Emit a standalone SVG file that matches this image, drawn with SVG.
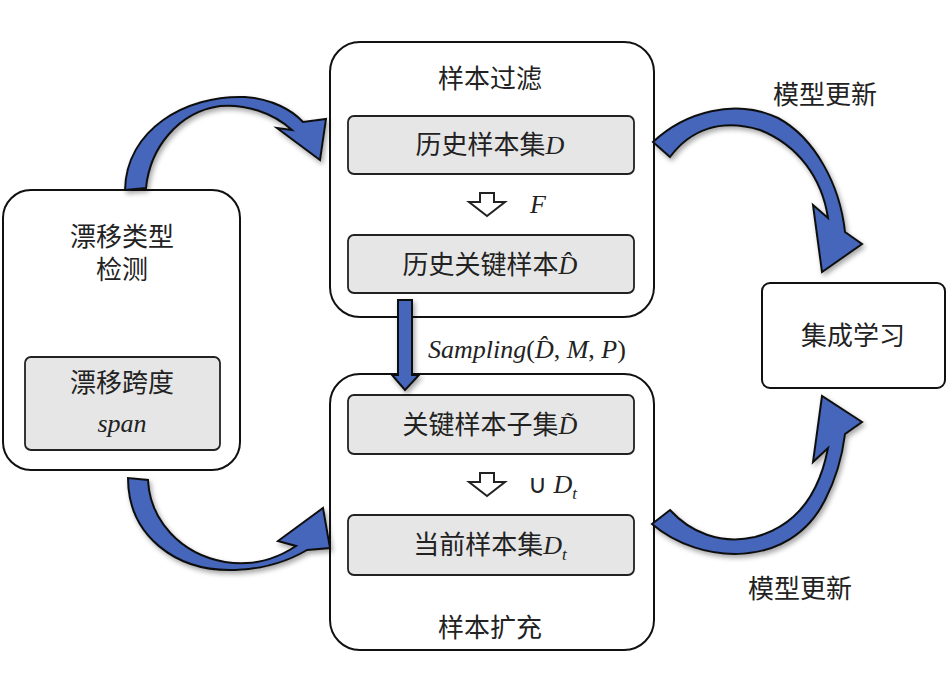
<svg xmlns="http://www.w3.org/2000/svg" width="948" height="675" viewBox="0 0 948 675">
<defs>
<filter id="sh" x="-20%" y="-20%" width="140%" height="140%"><feDropShadow dx="2" dy="3" stdDeviation="2.5" flood-color="#000" flood-opacity="0.35"/></filter>
<style>
.box{fill:#fff;stroke:#111;stroke-width:2}
.inner{fill:#e6e6e6;stroke:#222;stroke-width:1.8}
.cn{font-family:"Liberation Serif","Noto Sans CJK SC",serif;font-size:26px;fill:#222;text-anchor:middle}
.it{font-family:"Liberation Serif",serif;font-style:italic}
.blue{fill:#4466bb;stroke:#111;stroke-width:2;filter:url(#sh)}
.hol{fill:#fff;stroke:#222;stroke-width:2}
</style>
</defs>
<rect width="948" height="675" fill="#fff"/>
<g id="left"><rect class="box" x="3" y="190" width="237" height="280" rx="28"/>
<text class="cn" x="122" y="246">漂移类型</text><text class="cn" x="122" y="279">检测</text>
<rect class="inner" x="25" y="357" width="195" height="93" rx="6"/>
<text class="cn" x="122" y="392">漂移跨度</text><text class="cn it" x="122" y="432">span</text></g>
<g id="top"><rect class="box" x="330" y="42" width="324" height="275" rx="30"/>
<text class="cn" x="490" y="88">样本过滤</text>
<rect class="inner" x="348" y="116" width="286" height="58" rx="6"/>
<text class="cn" x="490" y="154">历史样本集<tspan class="it">D</tspan></text>
<rect class="inner" x="348" y="235" width="286" height="58" rx="6"/>
<text class="cn" x="490" y="274">历史关键样本<tspan class="it">D̂</tspan></text></g>
<g id="bottom"><rect class="box" x="330" y="374" width="324" height="276" rx="30"/>
<rect class="inner" x="348" y="395" width="286" height="59" rx="6"/>
<text class="cn" x="490" y="434">关键样本子集<tspan class="it">D̃</tspan></text>
<rect class="inner" x="348" y="515" width="286" height="60" rx="6"/>
<text class="cn" x="490" y="554">当前样本集<tspan class="it">D</tspan><tspan class="it" font-size="17" dy="6">t</tspan></text>
<text class="cn" x="490" y="637">样本扩充</text></g>
<g id="right"><rect class="box" x="762" y="283" width="183" height="105" rx="8"/>
<text class="cn" x="853" y="345">集成学习</text></g>
<g id="connectors">
<path class="hol" d="M480,193 h14 v9 h11 l-18,14 l-18,-14 h11 z"/>
<text class="it" x="530" y="213" font-size="26" fill="#222">F</text>
<path class="hol" d="M480,473 h14 v9 h11 l-18,14 l-18,-14 h11 z"/>
<text x="528" y="493" font-size="26" fill="#222" font-family="Liberation Serif,serif">∪ <tspan class="it">D</tspan><tspan class="it" font-size="17" dy="6">t</tspan></text>
<path class="blue" d="M398,300 h14 v75 h7 l-14,15 l-13,-15 h6 z"/>
<text class="it" x="428" y="358" font-size="26" fill="#222">Sampling<tspan font-style="normal">(</tspan>D̂<tspan font-style="normal">, </tspan>M<tspan font-style="normal">, </tspan>P<tspan font-style="normal">)</tspan></text>
<path class="blue" d="M125,190 C126,130 185,95 245,97 C272,99 292,110 303,122 L326,119 L320,160 L277,128 L292,130 C272,112 245,104 220,106 C178,112 150,148 146,188 Z"/>
<path class="blue" d="M653,142 C685,112 735,98 778,118 C815,138 840,185 845,232 L862,244 L822,272 L813,205 L828,218 C822,178 798,145 760,130 C720,118 690,130 670,157 Z"/>
<path class="blue" d="M128,478 C128,535 175,572 235,570 C265,569 290,560 307,550 L330,548 L323,508 L278,541 L296,546 C275,560 250,566 225,562 C180,554 150,520 148,480 Z"/>
<path class="blue" d="M652,524 C700,565 790,570 825,500 C838,475 843,450 845,434 L862,422 L822,396 L813,462 L828,448 C820,490 800,525 755,537 C720,545 690,532 670,510 Z"/>
<text class="cn" x="825" y="104">模型更新</text>
<text class="cn" x="800" y="598">模型更新</text>
</g>
</svg>
